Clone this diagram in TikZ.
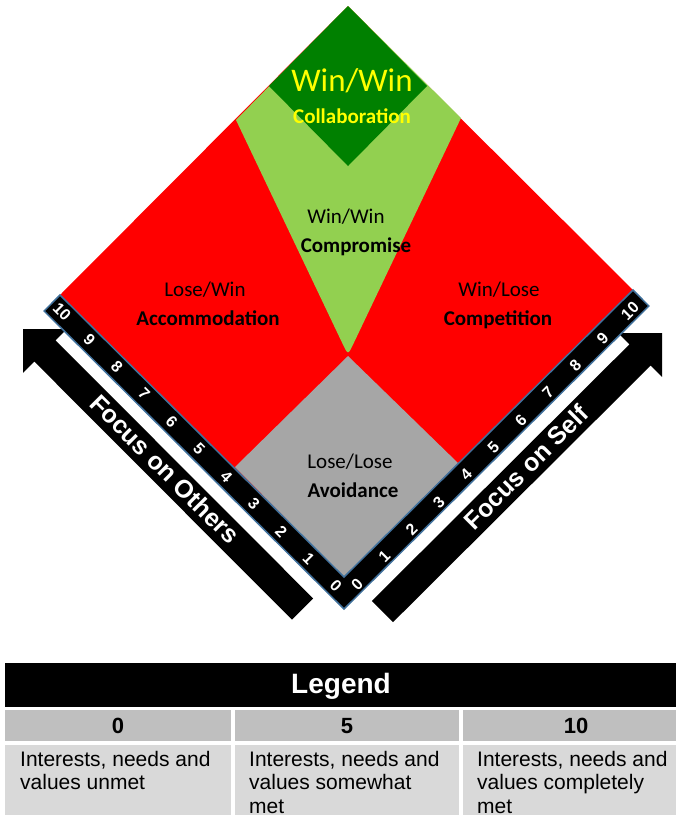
\documentclass[tikz,border=0pt]{standalone}
\usepackage{fontspec}
\setmainfont{Carlito}
\newfontfamily\arialf{Liberation Sans}
\definecolor{lgreen}{HTML}{92D050}
\definecolor{dgreen}{HTML}{008000}
\definecolor{avgray}{HTML}{A6A6A6}
\definecolor{stripblue}{HTML}{41719C}
\definecolor{hdrgray}{HTML}{BFBFBF}
\definecolor{cellgray}{HTML}{D9D9D9}
\definecolor{winyellow}{HTML}{FFFF00}
\begin{document}
\begin{tikzpicture}[x=1pt,y=-1pt,
  lbl/.style={font=\fontsize{21}{25}\selectfont, anchor=base, inner sep=0pt},
  lblb/.style={font=\fontsize{21}{25}\selectfont\bfseries, anchor=base, inner sep=0pt},
  num/.style={font=\arialf\bfseries\fontsize{16}{16}\selectfont, text=white, inner sep=0pt},
  focus/.style={font=\arialf\bfseries\fontsize{25}{25}\selectfont, text=white, inner sep=0pt},
  legtxt/.style={font=\arialf\fontsize{21}{23.5}\selectfont, anchor=base west, inner sep=0pt},
  leghd/.style={font=\arialf\bfseries\fontsize{22}{22}\selectfont, inner sep=0pt}]
\useasboundingbox (0,0) rectangle (676,815);
% main square
\coordinate (Tp) at (348,6);
\coordinate (R) at (633,290);
\coordinate (Bt) at (344,577);
\coordinate (L) at (60,295);
\fill[red] (Tp) -- (R) -- (Bt) -- (L) -- cycle;
% compromise funnel
\fill[lgreen] (236,120) -- (Tp) -- (461,118) -- (353.2,344.2) .. controls (348,355) .. (342.8,344.2) -- cycle;
% collaboration
\fill[dgreen] (Tp) -- (427,86) -- (348,166) -- (269,86) -- cycle;
% avoidance
\fill[avgray] (348,356) -- (458,463) -- (Bt) -- (235,467) -- cycle;
% arrows
\fill[black] (23,329) -- (23,372.8) -- (34.3,361.5) -- (291.9,619.6) -- (313.1,598.4) -- (55.5,340.3) -- (66.8,329) -- cycle;
\fill[black] (662,333) -- (662,376.8) -- (650.7,365.5) -- (393.1,622.1) -- (371.9,600.9) -- (629.5,344.3) -- (618.2,333) -- cycle;
% scale strip
\filldraw[fill=black, draw=stripblue, line width=1.5pt, line join=miter]
  (L) -- (44.1,311) -- (344,609) -- (648.9,306) -- (R) -- (Bt) -- cycle;
\foreach \i in {0,...,10} {
  \node[num, rotate=-45] (ln\i) at ({336-27.4*\i},{586-27.4*\i}) {\i};
  \node[num, rotate=45] (rn\i) at ({357+27.3*\i},{584-27.3*\i}) {\i};
}
\node[focus, rotate=-45] (fo) at (165,469) {Focus on Others};
\node[focus, rotate=45] (fs) at (526,467) {Focus on Self};
% labels
\node[font=\fontsize{33}{36}\selectfont, anchor=base, inner sep=0pt, text=winyellow] (ww1) at (352,91) {Win/Win};
\node[lblb, text=winyellow] (col) at (352,123) {Collaboration};
\node[lbl] (ww2) at (346,223) {Win/Win};
\node[lblb] (com) at (356,252) {Compromise};
\node[lbl] (lw) at (205,296) {Lose/Win};
\node[lblb] (acc) at (208,325) {Accommodation};
\node[lbl] (wl) at (499,296) {Win/Lose};
\node[lblb] (cmp) at (498,325) {Competition};
\node[lbl] (ll) at (350,468) {Lose/Lose};
\node[lblb] (avo) at (353,497) {Avoidance};
% legend
\fill[black] (5,663) rectangle (676,707);
\node[font=\arialf\bfseries\fontsize{28}{28}\selectfont, text=white, inner sep=0pt] (leg) at (341,686) {Legend};
\fill[hdrgray] (5,710) rectangle (231,741);
\fill[hdrgray] (235,710) rectangle (459,741);
\fill[hdrgray] (463,710) rectangle (676,741);
\node[leghd] (h0) at (118,726) {0};
\node[leghd] (h5) at (347,726) {5};
\node[leghd] (h10) at (576,726) {10};
\fill[cellgray] (5,745) rectangle (231,815);
\fill[cellgray] (235,745) rectangle (459,815);
\fill[cellgray] (463,745) rectangle (676,815);
\node[legtxt] (a1) at (20,766) {Interests, needs and};
\node[legtxt] (a2) at (20,789.5) {values unmet};
\node[legtxt] (b1) at (249,766) {Interests, needs and};
\node[legtxt] (b2) at (249,789.5) {values somewhat};
\node[legtxt] (b3) at (249,813) {met};
\node[legtxt] (c1) at (477,766) {Interests, needs and};
\node[legtxt] (c2) at (477,789.5) {values completely};
\node[legtxt] (c3) at (477,813) {met};
\end{tikzpicture}
\end{document}
